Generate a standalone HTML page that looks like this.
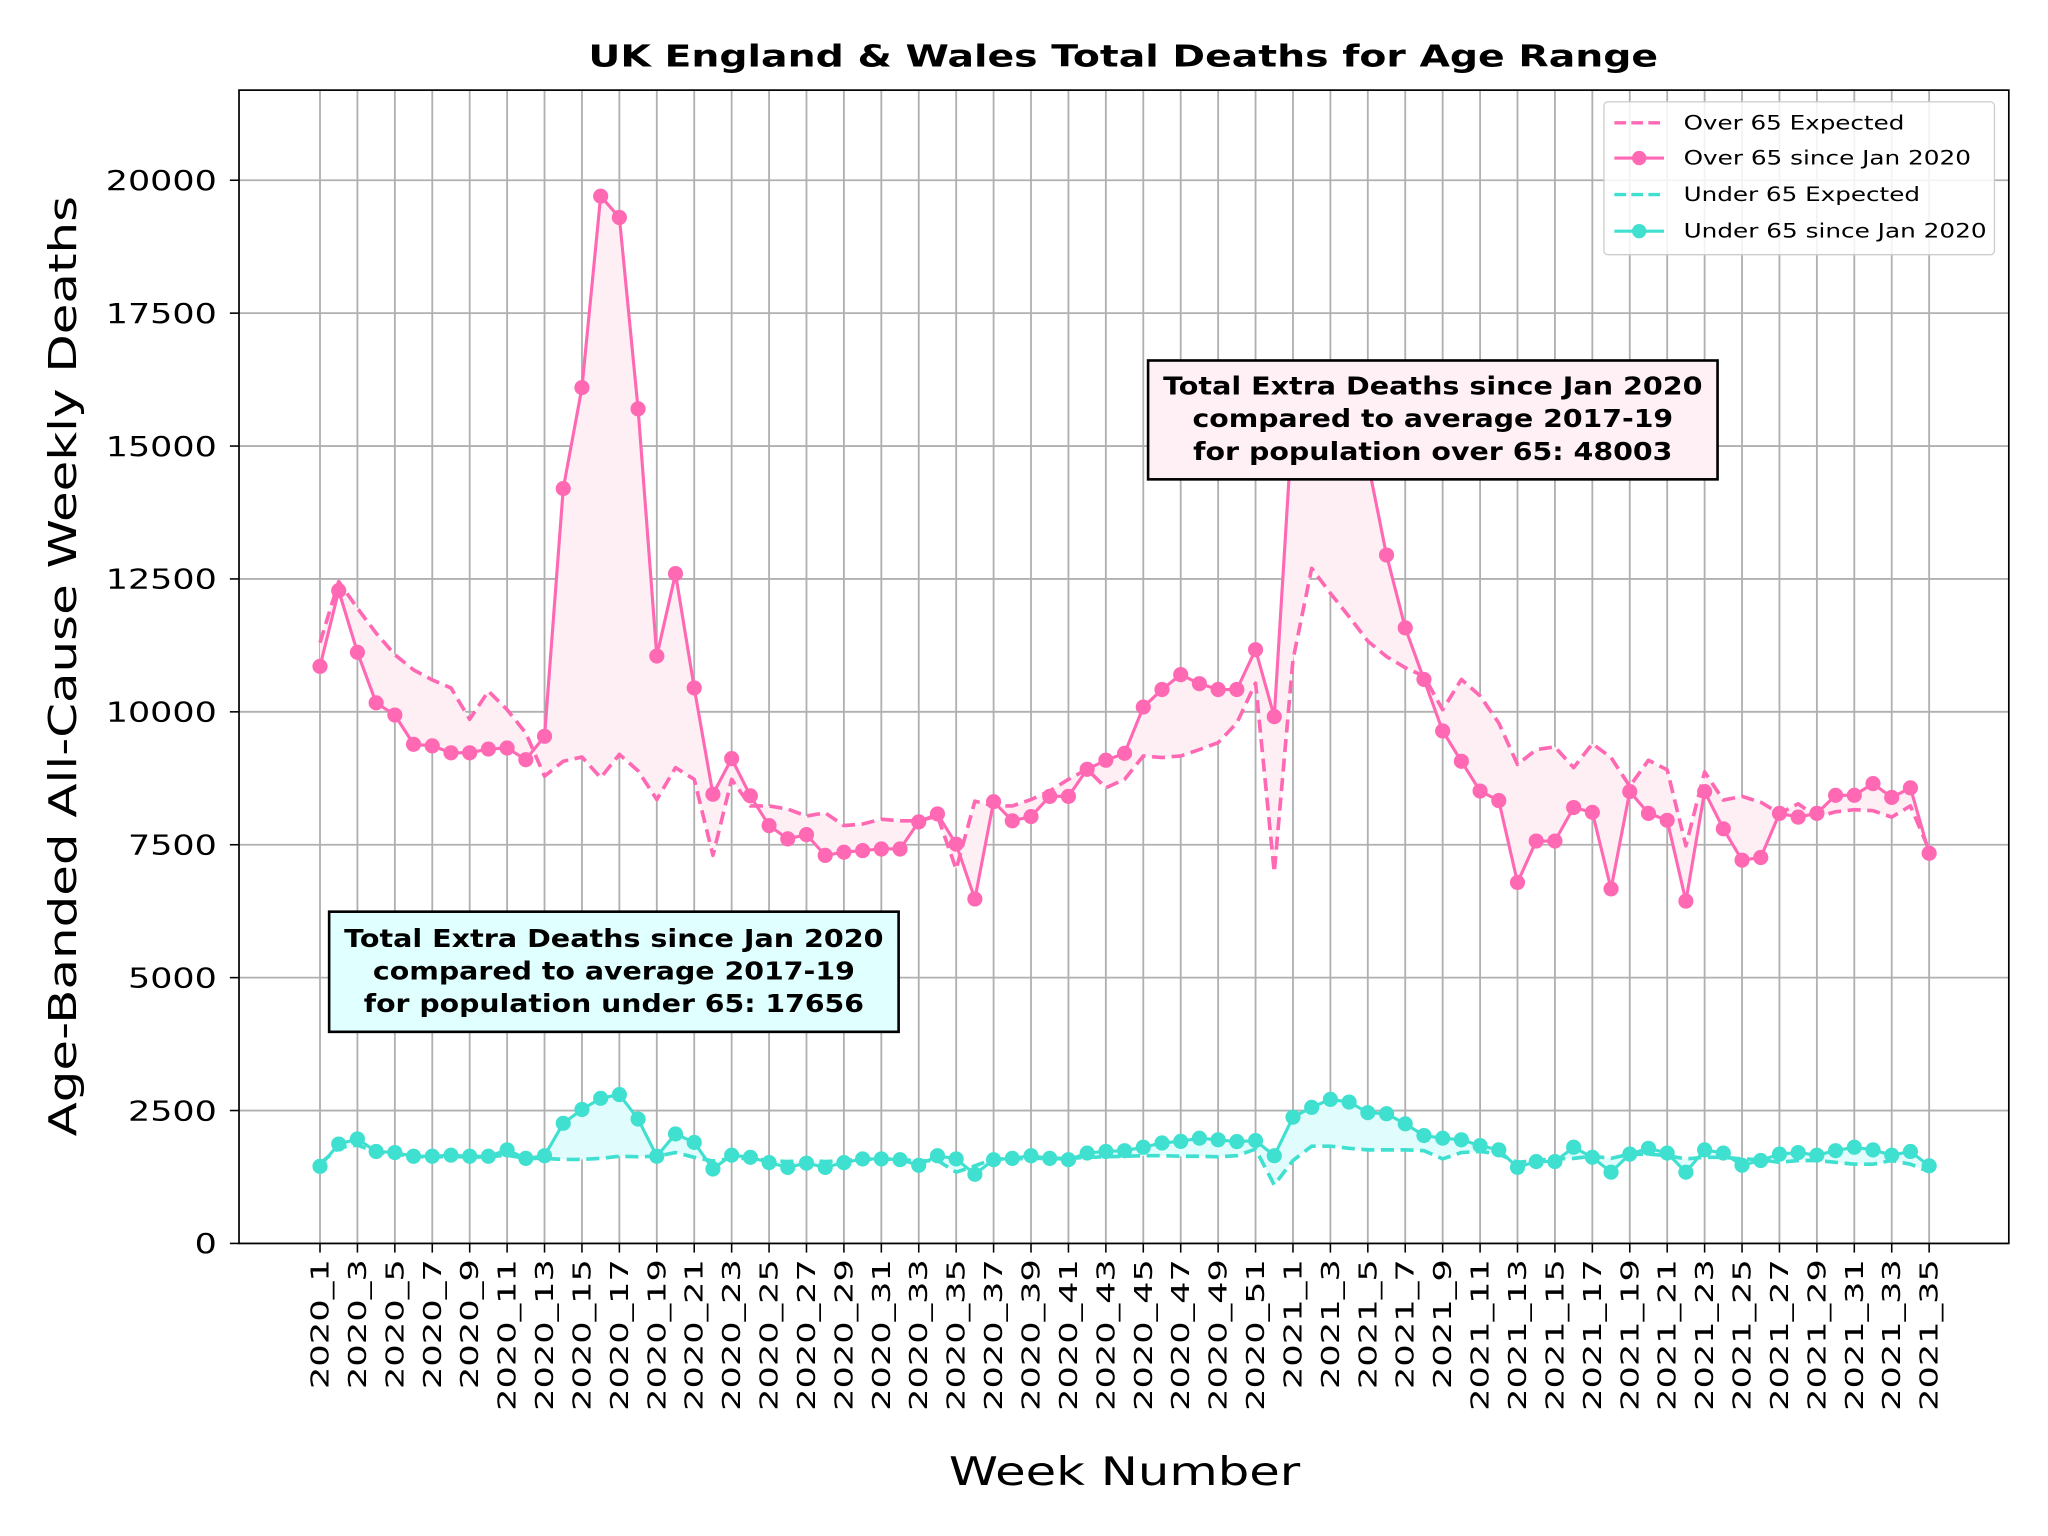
<!DOCTYPE html>
<html><head><meta charset="utf-8"><style>
html,body{margin:0;padding:0;background:#fff;}
svg{display:block;font-family:"DejaVu Sans","Liberation Sans",sans-serif;}
</style></head><body>
<svg id="chart" xmlns="http://www.w3.org/2000/svg" width="2048" height="1536" viewBox="0 0 1568 1176">
<rect x="0" y="0" width="1568" height="1176" fill="#fff"/>
<g id="grid"></g>
<g id="fills"></g>
<g id="series"></g>
<rect x="183" y="69" width="1355" height="883" fill="none" stroke="#000" stroke-width="1.3"/>
<g id="yticks"></g>
<g id="xticks"></g>
<text x="860" y="51" text-anchor="middle" font-size="23" font-weight="bold" textLength="819" lengthAdjust="spacingAndGlyphs">UK England &amp; Wales Total Deaths for Age Range</text>
<text transform="translate(58,510) rotate(-90)" text-anchor="middle" font-size="29" textLength="720" lengthAdjust="spacingAndGlyphs">Age-Banded All-Cause Weekly Deaths</text>
<text x="861" y="1137" text-anchor="middle" font-size="30" textLength="269" lengthAdjust="spacingAndGlyphs">Week Number</text>

<g>
<rect x="879" y="276" width="436" height="91" fill="#fff0f5" stroke="#000" stroke-width="2"/>
<text x="1097" y="302" text-anchor="middle" font-size="19" font-weight="bold" textLength="413" lengthAdjust="spacingAndGlyphs">Total Extra Deaths since Jan 2020</text>
<text x="1097" y="327" text-anchor="middle" font-size="19" font-weight="bold" textLength="368" lengthAdjust="spacingAndGlyphs">compared to average 2017-19</text>
<text x="1097" y="352" text-anchor="middle" font-size="19" font-weight="bold" textLength="367" lengthAdjust="spacingAndGlyphs">for population over 65: 48003</text>
</g>
<g>
<rect x="252" y="698" width="436" height="92" fill="#e0ffff" stroke="#000" stroke-width="2"/>
<text x="470" y="725" text-anchor="middle" font-size="19" font-weight="bold" textLength="413" lengthAdjust="spacingAndGlyphs">Total Extra Deaths since Jan 2020</text>
<text x="470" y="750" text-anchor="middle" font-size="19" font-weight="bold" textLength="369" lengthAdjust="spacingAndGlyphs">compared to average 2017-19</text>
<text x="470" y="775" text-anchor="middle" font-size="19" font-weight="bold" textLength="383" lengthAdjust="spacingAndGlyphs">for population under 65: 17656</text>
</g>

<g>
<rect x="1228" y="78" width="299" height="117" rx="3" fill="#fff" fill-opacity="0.85" stroke="#ccc" stroke-width="1"/>
<g>
<line x1="1236" y1="94" x2="1274" y2="94" stroke="#ff69b4" stroke-width="2.6" stroke-dasharray="9,4"/>
<text x="1289" y="99" font-size="15" textLength="169" lengthAdjust="spacingAndGlyphs">Over 65 Expected</text></g>
<g>
<line x1="1236" y1="121" x2="1274" y2="121" stroke="#ff69b4" stroke-width="2.4"/>
<circle cx="1255" cy="121" r="5.5" fill="#ff69b4"/>
<text x="1289" y="126" font-size="15" textLength="220" lengthAdjust="spacingAndGlyphs">Over 65 since Jan 2020</text></g>
<g>
<line x1="1236" y1="149" x2="1274" y2="149" stroke="#40e0d0" stroke-width="2.6" stroke-dasharray="9,4"/>
<text x="1289" y="154" font-size="15" textLength="181" lengthAdjust="spacingAndGlyphs">Under 65 Expected</text></g>
<g>
<line x1="1236" y1="177" x2="1274" y2="177" stroke="#40e0d0" stroke-width="2.4"/>
<circle cx="1255" cy="177" r="5.5" fill="#40e0d0"/>
<text x="1289" y="182" font-size="15" textLength="232" lengthAdjust="spacingAndGlyphs">Under 65 since Jan 2020</text></g>
</g>
</svg>
<script>
const over65Actual = [10856,12280,11120,10170,9940,9390,9360,9230,9230,9300,9320,9100,9540,14200,16100,19700,19300,15700,11050,12600,10450,8450,9120,8420,7860,7610,7690,7300,7360,7390,7420,7420,7930,8080,7510,6480,8310,7950,8030,8410,8410,8920,9090,9220,10090,10420,10700,10530,10420,10420,11170,9910,15600,16200,16100,15400,14700,12950,11580,10610,9640,9070,8510,8330,6790,7570,7570,8200,8110,6670,8500,8090,7960,6440,8500,7800,7210,7260,8090,8020,8090,8430,8430,8650,8390,8570,7340];
const over65Expected = [11300,12450,11950,11480,11075,10790,10600,10450,9860,10390,10040,9600,8790,9070,9150,8760,9200,8890,8350,8950,8730,7300,8730,8230,8230,8170,8040,8100,7860,7890,7980,7950,7950,8040,7040,8320,8230,8230,8350,8510,8730,8920,8570,8730,9170,9140,9170,9290,9420,9790,10540,6980,10980,12700,12230,11790,11330,11040,10830,10670,10040,10610,10300,9790,9010,9290,9340,8950,9400,9140,8600,9090,8910,7480,8870,8340,8410,8300,8090,8270,8020,8120,8160,8140,8020,8230,7400];
const under65Actual = [1450,1870,1965,1730,1710,1640,1640,1660,1640,1640,1760,1600,1650,2260,2520,2730,2800,2340,1640,2060,1900,1400,1660,1620,1520,1430,1510,1430,1520,1590,1590,1575,1470,1650,1590,1300,1575,1600,1650,1600,1575,1700,1730,1745,1810,1890,1920,1980,1950,1915,1935,1650,2375,2560,2710,2660,2460,2440,2250,2030,1980,1950,1840,1760,1430,1540,1540,1810,1620,1340,1680,1790,1700,1340,1760,1700,1470,1560,1680,1710,1660,1745,1810,1760,1660,1730,1460];
const under65Expected = [1500,1800,1850,1720,1680,1640,1620,1640,1620,1630,1660,1600,1600,1580,1580,1600,1640,1630,1640,1710,1620,1550,1600,1600,1560,1540,1560,1540,1560,1580,1590,1580,1550,1560,1340,1460,1590,1590,1600,1600,1600,1620,1630,1640,1650,1650,1640,1640,1630,1650,1775,1100,1560,1830,1830,1790,1760,1760,1760,1745,1590,1710,1730,1680,1525,1560,1590,1600,1640,1600,1680,1680,1650,1590,1620,1620,1590,1575,1525,1560,1560,1525,1490,1490,1560,1490,1350];
const yTicks = [0,2500,5000,7500,10000,12500,15000,17500,20000];

const NS = "http://www.w3.org/2000/svg";
const N = over65Actual.length;
function xPos(i){ return 245 + i * (1477 - 245) / 86; }
function yPos(v){ return 952 - v * (952 - 138) / 20000; }
function weekLabel(i){ return i < 52 ? "2020_" + (i + 1) : "2021_" + (i - 51); }
function mk(tag, attrs, parent){ const e = document.createElementNS(NS, tag); for (const k in attrs) e.setAttribute(k, attrs[k]); parent.appendChild(e); return e; }

const grid = document.getElementById("grid");
const yt = document.getElementById("yticks");
yTicks.forEach(v => {
  const y = yPos(v);
  const gl = mk("line", {x1:183, x2:1538, y1:y, y2:y, stroke:"#b0b0b0", "stroke-width":1.4}, grid);
  
  
  mk("line", {x1:176, x2:183, y1:y, y2:y, stroke:"#000", "stroke-width":1.2}, yt);
  const t = mk("text", {x:166, y:y + 7.5, "text-anchor":"end", "font-size":21, textLength: String(v).length * 17, lengthAdjust:"spacingAndGlyphs"}, yt);
  t.textContent = v;
  
  
});
const xt = document.getElementById("xticks");
for (let i = 0; i < N; i += 2) {
  const x = xPos(i);
  const gl = mk("line", {x1:x, x2:x, y1:69, y2:952, stroke:"#b0b0b0", "stroke-width":1.4}, grid);
  
  
  mk("line", {x1:x, x2:x, y1:952, y2:959, stroke:"#000", "stroke-width":1.2}, xt);
  const lab = weekLabel(i);
  const t = mk("text", {transform:"translate(" + (x + 6.5) + ",964) rotate(-90)", "text-anchor":"end", "font-size":19, textLength: lab.length * 16.6, lengthAdjust:"spacingAndGlyphs"}, xt);
  t.textContent = lab;
  
  
}

const fills = document.getElementById("fills");
const series = document.getElementById("series");
function fillBetween(a, b, color, name){
  let pts = [];
  for (let i = 0; i < N; i++) pts.push(xPos(i) + "," + yPos(a[i]));
  for (let i = N - 1; i >= 0; i--) pts.push(xPos(i) + "," + yPos(b[i]));
  const p = mk("polygon", {points: pts.join(" "), fill: color, stroke:"none"}, fills);
  
  
}
function line(a, color, dashed, name){
  const pts = a.map((v, i) => xPos(i) + "," + yPos(v)).join(" ");
  const attrs = {points: pts, fill:"none", stroke: color, "stroke-width": dashed ? 2.8 : 2.4, "stroke-linejoin":"round"};
  if (dashed) attrs["stroke-dasharray"] = "10,5";
  const p = mk("polyline", attrs, series);
  
  
}
function dots(a, color, name){
  a.forEach((v, i) => {
    const c = mk("circle", {cx: xPos(i), cy: yPos(v), r: 5.8, fill: color}, series);
    
    
  });
}
fillBetween(over65Actual, over65Expected, "#fdeff4", "over-65-excess-fill");
fillBetween(under65Actual, under65Expected, "#e0fcfc", "under-65-excess-fill");
line(over65Expected, "#ff69b4", true, "over-65-expected-line");
line(under65Expected, "#40e0d0", true, "under-65-expected-line");
line(over65Actual, "#ff69b4", false, "over-65-actual-line");
dots(over65Actual, "#ff69b4", "over-65-point");
line(under65Actual, "#40e0d0", false, "under-65-actual-line");
dots(under65Actual, "#40e0d0", "under-65-point");
</script>
</body></html>
